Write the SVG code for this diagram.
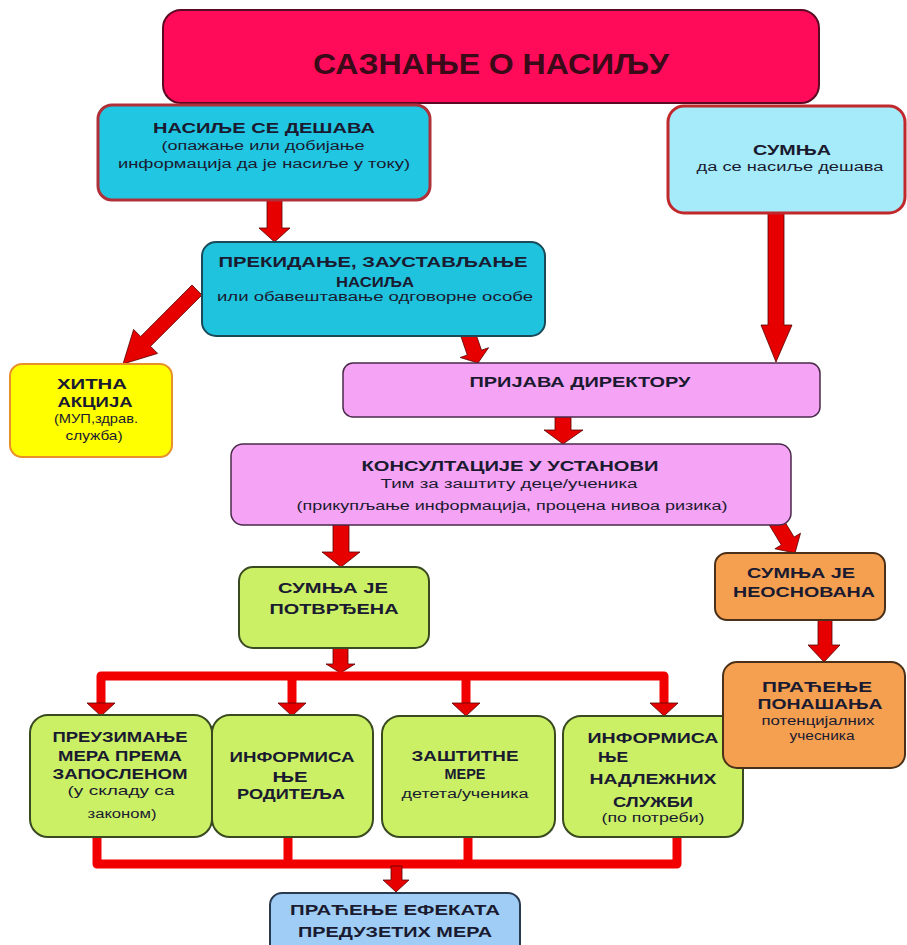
<svg xmlns="http://www.w3.org/2000/svg" width="907" height="945" viewBox="0 0 907 945">
<style>
text { font-family: "Liberation Sans", Arial, sans-serif; fill: #1a1a30; text-anchor: middle; }
.b { font-weight: bold; font-size: 15px; }
.s { font-size: 12px; }
.m { font-size: 13px; }
.arr { fill: #e60000; stroke: #5a0000; stroke-width: 0.8; }
.line { fill: none; stroke: #f20000; stroke-width: 9; stroke-linejoin: round; }
.green { fill: #cbf065; stroke: #3a4a20; stroke-width: 2; }
.pink { fill: #f5a3f5; stroke: #4a2a4a; stroke-width: 1.5; }
.orange { fill: #f5a050; stroke: #4a3018; stroke-width: 2; }
</style>
<rect width="907" height="945" fill="#ffffff"/>

<g id="connectors">
  <polygon class="arr" points="267,199 282,199 282,228 290,228 274.5,242 259,228 267,228"/>
  <polygon class="arr" points="768,212 784,212 784,325 792,325 776,362 761,325 768,325"/>
  <polygon class="arr" points="192,285 202,295 150.5,346.3 157.6,353.4 123,364 133.6,329.4 140.7,336.5"/>
  <polygon class="arr" points="460.9,336.4 475.1,331.6 481.5,350.2 488.6,347.7 478,363 460.2,357.5 467.3,355"/>
  <polygon class="arr" points="555,416 571,416 571,430 583,430 563,444 544,430 555,430"/>
  <polygon class="arr" points="333,524 349,524 349,552 360,552 341,567 322,552 333,552"/>
  <polygon class="arr" points="768.6,523.9 781.4,516.1 794.1,537.1 800.5,533.2 795,553 774.9,548.8 781.3,544.9"/>
  <polygon class="arr" points="818,619 832,619 832,645 840,645 824,662 808,645 818,645"/>
  <polygon class="arr" points="333,647 348,647 348,664 355,664 340.5,673 326,664 333,664"/>
  <path class="line" d="M101,705 V676 H664 V705 M292,676 V705 M466,676 V705"/>
  <polygon class="arr" points="87,703 115,703 101,716"/>
  <polygon class="arr" points="278,703 306,703 292,716"/>
  <polygon class="arr" points="452,703 480,703 466,716"/>
  <polygon class="arr" points="650,703 678,703 664,716"/>
  <path class="line" d="M97,836 V864 H677 V836 M288,836 V864 M468,836 V864"/>
  <polygon class="arr" points="391,866 402,866 402,880 409,880 396,892 383,880 391,880"/>
</g>

<g id="n-title">
  <rect x="163" y="10" width="656" height="93" rx="18" fill="#ff0b59" stroke="#5a0a22" stroke-width="2"/>
  <text x="491" y="74" font-size="30" font-weight="bold" style="fill:#3a0a18" textLength="356" lengthAdjust="spacingAndGlyphs">САЗНАЊЕ О НАСИЉУ</text>
</g>

<g id="n-desava">
  <rect x="98" y="105" width="332" height="95" rx="14" fill="#21c6e2" stroke="#b0303a" stroke-width="3"/>
  <text class="b" x="264" y="133" textLength="222" lengthAdjust="spacingAndGlyphs">НАСИЉЕ СЕ ДЕШАВА</text>
  <text class="s" x="263" y="150" textLength="203" lengthAdjust="spacingAndGlyphs">(опажање или добијање</text>
  <text class="s" x="264" y="168" textLength="292" lengthAdjust="spacingAndGlyphs">информација да је насиље у току)</text>
</g>

<g id="n-sumnja">
  <rect x="668" y="106" width="237" height="107" rx="16" fill="#a5ebf9" stroke="#c0282c" stroke-width="3"/>
  <text class="b" x="792" y="155" font-size="14" textLength="78" lengthAdjust="spacingAndGlyphs">СУМЊА</text>
  <text class="s" x="790" y="171" textLength="187" lengthAdjust="spacingAndGlyphs">да се насиље дешава</text>
</g>

<g id="n-prekidanje">
  <rect x="202" y="242" width="343" height="94" rx="14" fill="#1fc3de" stroke="#1a4a58" stroke-width="2"/>
  <text class="b" x="373" y="267" textLength="309" lengthAdjust="spacingAndGlyphs">ПРЕКИДАЊЕ, ЗАУСТАВЉАЊЕ</text>
  <text class="b" x="375" y="287" textLength="78" lengthAdjust="spacingAndGlyphs">НАСИЉА</text>
  <text class="s" x="375" y="301" textLength="316" lengthAdjust="spacingAndGlyphs">или обавештавање одговорне особе</text>
</g>

<g id="n-hitna">
  <rect x="10" y="364" width="162" height="93" rx="12" fill="#ffff00" stroke="#e8902a" stroke-width="2"/>
  <text class="b" x="92" y="389" font-size="14" textLength="70" lengthAdjust="spacingAndGlyphs">ХИТНА</text>
  <text class="b" x="95" y="407" font-size="14" textLength="75" lengthAdjust="spacingAndGlyphs">АКЦИЈА</text>
  <text class="m" x="96" y="423" textLength="84" lengthAdjust="spacingAndGlyphs">(МУП,здрав.</text>
  <text class="m" x="94" y="440" textLength="57" lengthAdjust="spacingAndGlyphs">служба)</text>
</g>

<g id="n-prijava">
  <rect x="343" y="363" width="477" height="54" rx="10" class="pink"/>
  <text class="b" x="580" y="387" textLength="221" lengthAdjust="spacingAndGlyphs">ПРИЈАВА ДИРЕКТОРУ</text>
</g>

<g id="n-konsultacije">
  <rect x="231" y="444" width="560" height="81" rx="12" class="pink"/>
  <text class="b" x="510" y="471" textLength="297" lengthAdjust="spacingAndGlyphs">КОНСУЛТАЦИЈЕ У УСТАНОВИ</text>
  <text class="s" x="509" y="488" textLength="257" lengthAdjust="spacingAndGlyphs">Тим за заштиту деце/ученика</text>
  <text class="s" x="512" y="510" textLength="431" lengthAdjust="spacingAndGlyphs">(прикупљање информација, процена нивоа ризика)</text>
</g>

<g id="n-potvrdjena">
  <rect x="239" y="567" width="190" height="81" rx="14" class="green"/>
  <text class="b" x="333" y="593" textLength="110" lengthAdjust="spacingAndGlyphs">СУМЊА ЈЕ</text>
  <text class="b" x="334" y="614" textLength="129" lengthAdjust="spacingAndGlyphs">ПОТВРЂЕНА</text>
</g>

<g id="n-neosnovana">
  <rect x="715" y="553" width="170" height="67" rx="12" class="orange"/>
  <text class="b" x="801" y="578" textLength="108" lengthAdjust="spacingAndGlyphs">СУМЊА ЈЕ</text>
  <text class="b" x="804" y="597" textLength="142" lengthAdjust="spacingAndGlyphs">НЕОСНОВАНА</text>
</g>

<g id="n-mere-zaposlenom">
  <rect x="30" y="715" width="182" height="122" rx="18" class="green"/>
  <text class="b" x="120" y="742" textLength="135" lengthAdjust="spacingAndGlyphs">ПРЕУЗИМАЊЕ</text>
  <text class="b" x="120" y="761" textLength="124" lengthAdjust="spacingAndGlyphs">МЕРА ПРЕМА</text>
  <text class="b" x="120" y="779" textLength="135" lengthAdjust="spacingAndGlyphs">ЗАПОСЛЕНОМ</text>
  <text class="m" x="121" y="795" textLength="107" lengthAdjust="spacingAndGlyphs">(у складу са</text>
  <text class="s" x="122" y="818" textLength="69" lengthAdjust="spacingAndGlyphs">законом)</text>
</g>

<g id="n-roditelja">
  <rect x="212" y="715" width="161" height="122" rx="18" class="green"/>
  <text class="b" x="292" y="762" textLength="125" lengthAdjust="spacingAndGlyphs">ИНФОРМИСА</text>
  <text class="b" x="290" y="782" textLength="35" lengthAdjust="spacingAndGlyphs">ЊЕ</text>
  <text class="b" x="291" y="799" textLength="108" lengthAdjust="spacingAndGlyphs">РОДИТЕЉА</text>
</g>

<g id="n-zastitne">
  <rect x="382" y="716" width="173" height="121" rx="18" class="green"/>
  <text class="b" x="465" y="761" textLength="107" lengthAdjust="spacingAndGlyphs">ЗАШТИТНЕ</text>
  <text class="b" x="465" y="779" textLength="41" lengthAdjust="spacingAndGlyphs">МЕРЕ</text>
  <text class="s" x="465" y="798" textLength="127" lengthAdjust="spacingAndGlyphs">детета/ученика</text>
</g>

<g id="n-sluzbi">
  <rect x="563" y="716" width="180" height="121" rx="18" class="green"/>
  <text class="b" x="653" y="743" textLength="131" lengthAdjust="spacingAndGlyphs">ИНФОРМИСА</text>
  <text class="b" x="613" y="762" textLength="30" lengthAdjust="spacingAndGlyphs">ЊЕ</text>
  <text class="b" x="653" y="784" textLength="127" lengthAdjust="spacingAndGlyphs">НАДЛЕЖНИХ</text>
  <text class="b" x="653" y="807" textLength="80" lengthAdjust="spacingAndGlyphs">СЛУЖБИ</text>
  <text class="s" x="653" y="822" textLength="103" lengthAdjust="spacingAndGlyphs">(по потреби)</text>
</g>

<g id="n-ponasanja">
  <rect x="723" y="662" width="182" height="106" rx="14" class="orange"/>
  <text class="b" x="817" y="692" textLength="110" lengthAdjust="spacingAndGlyphs">ПРАЋЕЊЕ</text>
  <text class="b" x="820" y="709" textLength="125" lengthAdjust="spacingAndGlyphs">ПОНАШАЊА</text>
  <text class="s" x="818" y="725" textLength="113" lengthAdjust="spacingAndGlyphs">потенцијалних</text>
  <text class="s" x="822" y="740" textLength="65" lengthAdjust="spacingAndGlyphs">учесника</text>
</g>

<g id="n-efekata">
  <rect x="270" y="893" width="250" height="70" rx="12" fill="#9fcdf5" stroke="#2a3a50" stroke-width="2"/>
  <text class="b" x="395" y="915" textLength="210" lengthAdjust="spacingAndGlyphs">ПРАЋЕЊЕ ЕФЕКАТА</text>
  <text class="b" x="395" y="937" textLength="194" lengthAdjust="spacingAndGlyphs">ПРЕДУЗЕТИХ МЕРА</text>
</g>
</svg>
